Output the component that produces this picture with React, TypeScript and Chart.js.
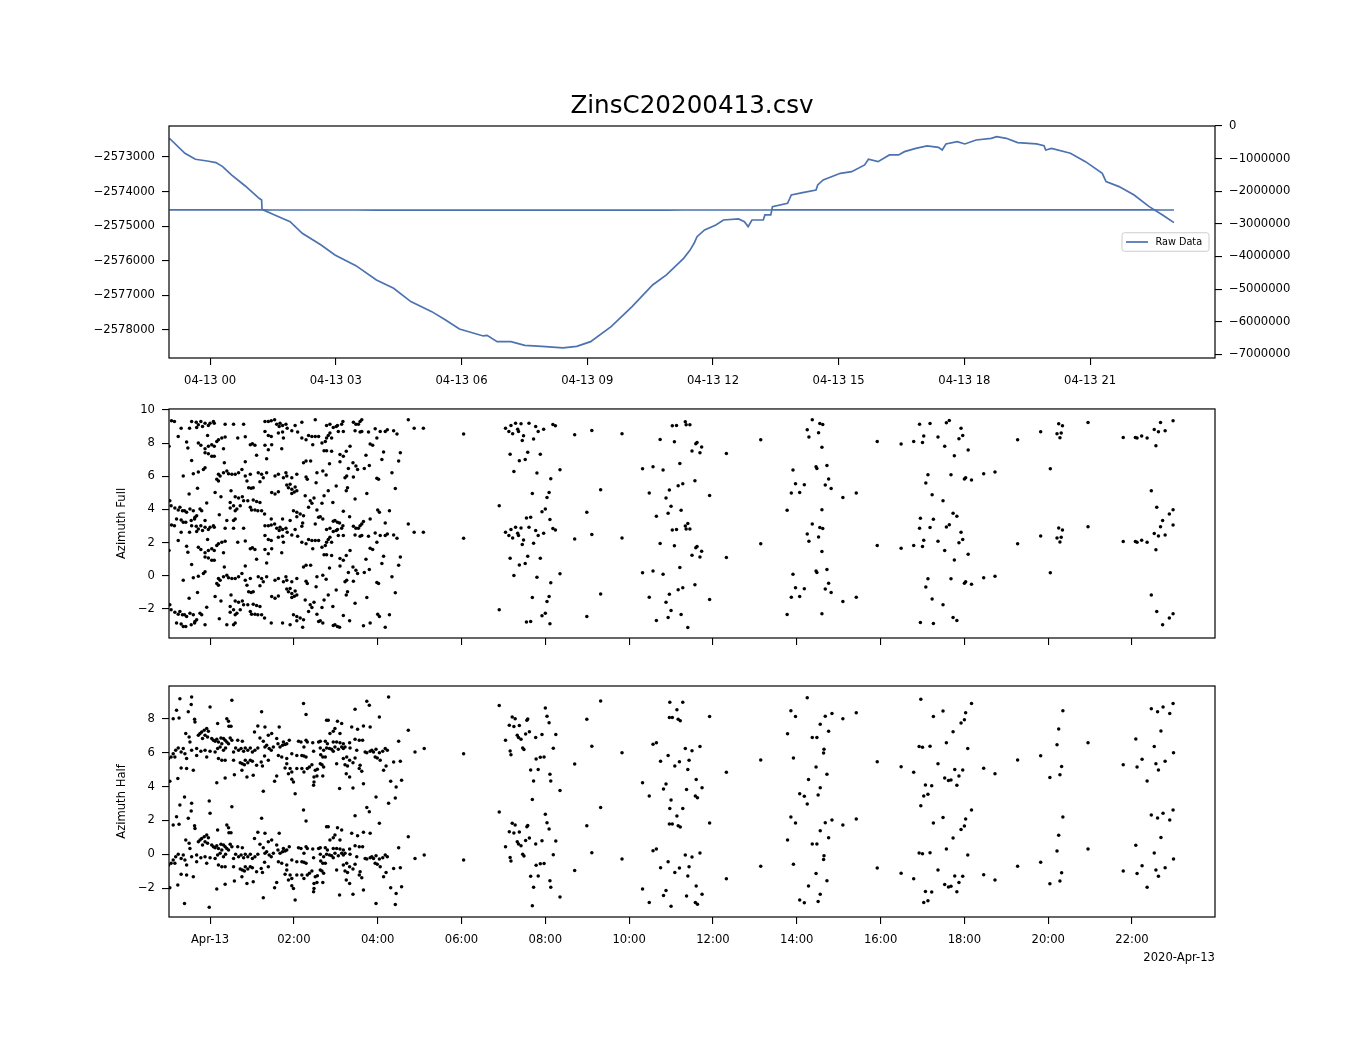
import { useEffect, useRef } from "react";
import { Chart, registerables } from "chart.js";

Chart.register(...registerables);

const FONT = "'DejaVu Sans', sans-serif";
const BLUE = "#4c72b0";
// each azimuth is drawn twice, one full turn apart
const PERIOD = 2 * Math.PI;

// x values are hours since 2020-04-13 00:00
const X_MIN = -0.98;
const X_MAX = 23.98;

const rawHours = [
  -0.97, -0.6, -0.35, -0.07, 0.14, 0.3, 0.51, 0.84, 1.17, 1.23, 1.24, 1.5, 1.91, 2.2, 2.65, 2.98, 3.48,
  3.97, 4.38, 4.79, 5.29, 5.62, 5.95, 6.52, 6.61, 6.85, 7.18, 7.51, 7.92, 8.42, 8.75, 9.08, 9.57, 10.07,
  10.56, 10.89, 11.3, 11.45, 11.55, 11.62, 11.8, 12.07, 12.25, 12.61, 12.75, 12.84, 12.93, 13.2, 13.24,
  13.38, 13.42, 13.78, 13.87, 14.14, 14.46, 14.5, 14.63, 15.04, 15.31, 15.62, 15.71, 15.94, 16.21, 16.43,
  16.57, 16.84, 17.11, 17.38, 17.47, 17.56, 17.83, 18.01, 18.28, 18.64, 18.77, 19.0, 19.27, 19.72, 19.9,
  19.94, 20.08, 20.53, 20.89, 21.29, 21.38, 21.69, 22.05, 22.41, 22.73, 23.0,
];
const rawValues = [
  -2572460, -2572894, -2573067, -2573116, -2573164, -2573279, -2573520, -2573838, -2574195, -2574243,
  -2574513, -2574657, -2574869, -2575206, -2575543, -2575832, -2576141, -2576555, -2576796, -2577181,
  -2577470, -2577711, -2577971, -2578173, -2578154, -2578337, -2578337, -2578443, -2578472, -2578520,
  -2578472, -2578337, -2577904, -2577326, -2576699, -2576410, -2575929, -2575700, -2575495, -2575303,
  -2575110, -2574965, -2574821, -2574792, -2574869, -2575013, -2574821, -2574821, -2574676, -2574676,
  -2574435, -2574339, -2574098, -2574031, -2573954, -2573809, -2573665, -2573472, -2573424, -2573231,
  -2573067, -2573135, -2572942, -2572942, -2572846, -2572750, -2572682, -2572721, -2572798, -2572624,
  -2572557, -2572624, -2572509, -2572461, -2572412, -2572461, -2572586, -2572624, -2572672, -2572798,
  -2572750, -2572894, -2573135, -2573472, -2573713, -2573857, -2574098, -2574435, -2574676, -2574898,
];

const dayTicks = [0, 3, 6, 9, 12, 15, 18, 21];
const hourTicks = [0, 2, 4, 6, 8, 10, 12, 14, 16, 18, 20, 22];
const leftTicks = [-2578000, -2577000, -2576000, -2575000, -2574000, -2573000];
const rightTicks = [-7000000, -6000000, -5000000, -4000000, -3000000, -2000000, -1000000, 0];
const fullTicks = [-2, 0, 2, 4, 6, 8, 10];
const halfTicks = [-2, 0, 2, 4, 6, 8];

// [hour, azimuth] in (-pi, pi]
const azFull: [number, number][] = [
  [-0.92, 3.06], [-0.85, 3.02], [-0.44, 3.02], [-0.33, 2.98], [-0.28, 2.82], [-0.22, 3.02], [-0.18, 2.72],
  [-0.12, 2.92], [0.0, 2.92], [0.08, 3.02], [-0.69, 2.62], [-0.49, 2.62], [-0.32, 2.66], [-0.04, 2.78],
  [0.1, 2.92], [0.36, 2.86], [0.56, 2.86], [0.8, 2.86], [1.31, 3.02], [1.39, 3.02], [1.46, 3.06],
  [1.54, 3.12], [1.59, 2.86], [1.65, 2.72], [1.67, 2.92], [1.73, 2.78], [1.81, 2.86], [1.84, 2.62],
  [2.03, 2.78], [2.19, 2.98], [1.31, 2.42], [1.39, 2.18], [1.46, 2.12], [1.63, 2.32], [1.73, 2.38],
  [1.75, 2.02], [1.95, 2.46], [2.09, 2.38], [-0.76, 2.12], [-0.06, 2.18], [0.2, 1.92], [0.28, 2.02],
  [0.36, 2.08], [0.66, 2.02], [0.84, 2.1], [-0.98, 1.52], [-0.56, 1.78], [-0.53, 1.42], [-0.28, 1.72],
  [-0.22, 1.58], [-0.12, 1.38], [-0.04, 1.52], [0.04, 1.62], [0.1, 1.52], [0.16, 1.82], [0.32, 1.38],
  [0.96, 1.62], [1.01, 1.68], [1.07, 1.58], [1.31, 1.58], [1.39, 1.32], [1.47, 1.62], [1.71, 1.38],
  [2.19, 2.02], [-0.12, 1.13], [-0.04, 1.07], [0.04, 0.93], [0.1, 0.93], [1.11, 0.99], [1.35, 0.77],
  [-0.44, 0.67], [0.34, 0.53], [0.84, 0.59], [2.23, 0.53], [-0.64, -0.27], [-0.4, -0.13], [-0.28, -0.03],
  [-0.16, 0.13], [-0.12, 0.23], [0.2, -0.17], [0.24, -0.27], [0.32, -0.07], [0.4, 0.03], [0.44, -0.13],
  [0.52, -0.17], [0.6, -0.17], [0.68, -0.07], [0.76, 0.13], [0.84, -0.27], [0.96, -0.17], [1.15, -0.07],
  [1.23, -0.17], [1.27, -0.37], [1.35, -0.07], [1.55, -0.27], [1.63, -0.17], [1.75, -0.37], [1.81, -0.07],
  [1.83, -0.27], [1.95, -0.37], [2.07, -0.17], [0.16, -0.47], [0.2, -0.57], [0.88, -0.57], [1.19, -0.61],
  [1.83, -0.81], [1.91, -0.77], [1.87, -0.97], [1.95, -1.07], [2.03, -0.93], [2.07, -1.16], [0.92, -0.97],
  [0.98, -1.01], [1.03, -0.97], [-0.5, -1.36], [-0.3, -1.01], [0.12, -1.26], [0.26, -1.52], [0.5, -1.16],
  [0.6, -1.52], [0.68, -1.6], [0.77, -1.52], [0.9, -1.76], [1.03, -1.72], [1.11, -1.8], [1.19, -1.86],
  [1.47, -1.26], [1.55, -1.36], [1.63, -1.22], [1.95, -1.32], [2.01, -1.24], [-0.08, -1.9], [-0.96, -1.76],
  [-0.93, -2.06], [-0.84, -2.2], [-0.72, -2.16], [-0.76, -2.32], [-0.66, -2.36], [-0.61, -2.36],
  [-0.56, -2.46], [-0.48, -2.26], [-0.4, -2.36], [-0.32, -2.66], [-0.24, -2.26], [-0.2, -2.36],
  [0.48, -1.86], [0.56, -2.06], [0.64, -2.26], [0.48, -2.2], [0.6, -2.36], [0.72, -2.06], [0.8, -1.76],
  [0.96, -2.16], [0.99, -2.32], [1.07, -2.32], [1.14, -2.36], [1.3, -2.56], [1.23, -2.36], [1.99, -2.36],
  [2.07, -2.46], [2.15, -2.56], [2.23, -2.66], [-0.8, -2.86], [-0.69, -2.92], [-0.64, -3.06],
  [-0.58, -3.06], [-0.45, -2.96], [-0.37, -2.86], [-0.36, -2.76], [-0.12, -2.96], [0.22, -2.6],
  [0.4, -2.96], [0.56, -2.96], [0.6, -2.86], [1.46, -2.86], [1.73, -2.86], [1.91, -2.96], [2.07, -2.72],
  [2.51, 3.12], [4.73, 3.12], [2.78, 2.78], [2.86, 2.86], [2.94, 2.66], [3.01, 2.72], [3.04, 2.78],
  [3.14, 2.86], [3.17, 3.02], [3.42, 2.98], [3.48, 2.86], [3.54, 2.86], [3.58, 3.02], [3.62, 3.12],
  [3.46, 2.46], [3.58, 2.38], [3.62, 2.42], [3.78, 2.38], [3.94, 2.58], [4.06, 2.42], [4.18, 2.42],
  [4.23, 2.52], [4.38, 2.46], [4.46, 2.26], [4.87, 2.62], [5.09, 2.62], [2.29, 1.92], [2.35, 2.18],
  [2.43, 2.12], [2.51, 2.12], [2.59, 2.12], [2.45, 1.62], [2.67, 1.72], [2.75, 1.82], [2.78, 2.02],
  [2.82, 2.18], [2.9, 2.02], [2.86, 2.32], [3.06, 2.42], [3.18, 2.42], [3.82, 1.66], [3.88, 1.58],
  [3.98, 2.02], [2.72, 1.26], [2.78, 1.26], [2.9, 1.22], [3.1, 1.03], [3.18, 0.93], [3.25, 1.22],
  [3.34, 1.52], [3.72, 0.99], [4.14, 1.18], [4.54, 1.13], [4.1, 0.73], [4.5, 0.63], [2.29, 0.63],
  [2.4, 0.63], [2.85, 0.47], [3.1, 0.59], [3.41, 0.53], [3.48, 0.33], [3.52, 0.13], [3.68, 0.19],
  [3.8, 0.37], [3.3, 0.19], [4.34, -0.07], [2.29, -0.33], [2.32, -0.47], [2.55, -0.07], [2.69, 0.03],
  [2.77, -0.21], [2.53, -0.67], [3.22, -0.37], [3.26, -0.27], [3.42, -0.33], [3.98, -0.41], [4.02, -0.47],
  [3.01, -0.87], [3.25, -1.16], [3.28, -0.97], [2.82, -1.16], [2.72, -1.46], [3.74, -1.32], [4.42, -1.03],
  [2.27, -1.46], [2.39, -1.76], [2.43, -1.92], [2.48, -1.6], [2.67, -1.92], [2.93, -1.86], [3.46, -1.66],
  [2.35, -2.16], [2.55, -2.32], [2.63, -2.72], [2.59, -2.76], [2.69, -2.86], [2.94, -3.0], [2.98, -2.96],
  [3.04, -3.06], [3.09, -3.11], [3.18, -2.4], [3.33, -2.72], [3.66, -3.02], [3.82, -2.86], [4.0, -2.32],
  [4.04, -2.46], [4.18, -3.11], [4.28, -2.36], [2.21, -3.11],
  [6.05, 2.26], [6.9, -2.06], [7.05, 2.62], [7.13, 2.42], [7.18, 2.78], [7.22, 2.28], [7.29, 2.92],
  [7.34, 2.56], [7.36, 2.42], [7.42, 2.88], [7.48, 2.16], [7.45, 1.88], [7.61, 2.92], [7.72, 1.96],
  [7.77, 2.72], [7.83, 2.42], [7.96, 2.56], [8.18, 2.84], [8.24, 2.76], [7.16, 1.05], [7.38, 0.65],
  [7.52, 0.73], [7.58, 1.17], [7.88, 1.05], [7.25, 0.01], [7.8, -0.09], [8.13, -0.43], [8.35, 0.11],
  [7.69, -1.32], [8.09, -1.26], [8.04, -1.56], [7.55, -2.8], [7.65, -2.76], [7.92, -2.42], [8.0, -2.26],
  [8.11, -2.9], [8.7, 2.22], [9.11, 2.48], [9.83, 2.28], [8.99, -2.46], [9.32, -1.1], [10.32, 0.17],
  [10.57, 0.29], [10.81, 0.09], [11.21, 0.49], [10.48, -1.3], [10.96, -1.12], [10.88, -1.6], [11.0, -2.1],
  [10.65, -2.7], [10.93, -2.52], [11.24, -2.34], [11.4, -3.13], [11.17, -0.85], [11.28, -0.73],
  [11.57, -0.55], [11.92, -1.44], [11.03, 2.76], [11.13, 2.78], [11.34, 3.0], [11.45, 2.82], [11.36, 2.82],
  [10.74, 1.94], [11.08, 1.8], [11.62, 1.76], [11.59, 1.68], [11.73, 1.48], [11.5, 1.24], [11.69, 1.13],
  [12.32, 1.09], [13.14, 1.92], [13.77, -2.34], [13.87, -1.3], [14.07, -1.26], [13.97, -0.73],
  [14.18, -0.79], [13.91, 0.09], [14.46, 0.29], [14.48, 0.19], [14.25, 2.52], [14.37, 3.12], [14.29, 2.08],
  [14.52, 2.34], [14.55, 2.9], [14.62, 2.84], [14.6, 1.46], [14.72, 0.37], [14.76, -0.45], [14.68, -0.81],
  [14.82, -1.02], [14.6, -2.3], [15.1, -1.56], [15.42, -1.3], [15.92, 1.82], [16.49, 1.66], [16.79, 1.82],
  [17.0, 1.76], [17.03, 2.14], [17.37, 2.08], [17.53, 1.52], [17.76, 0.95], [17.87, 1.98], [17.96, 2.18],
  [17.92, 2.62], [18.09, 1.3], [16.93, 2.86], [17.18, 2.9], [17.57, 2.94], [17.64, 3.08], [16.95, -2.82],
  [17.26, -2.88], [17.73, -2.52], [17.82, -2.7], [17.13, -0.19], [17.08, -0.69], [17.23, -1.4],
  [17.49, -1.76], [17.68, -0.19], [18.0, -0.45], [18.03, -0.37], [18.17, -0.51], [18.46, -0.13],
  [18.73, -0.03], [19.27, 1.92], [19.82, 2.4], [20.21, 2.28], [20.31, 2.32], [20.28, 2.04], [20.25, 2.88],
  [20.34, 2.76], [20.05, 0.17], [20.95, 2.96], [21.79, 2.06], [22.08, 2.06], [22.12, 2.02], [22.23, 2.14],
  [22.36, 2.02], [22.57, 1.56], [22.53, 2.54], [22.63, 2.4], [22.79, 2.46], [22.68, 2.96], [22.98, 3.06],
  [22.59, -2.16], [22.46, -1.16], [22.89, -2.56], [22.98, -2.3], [22.73, -2.96],
];

const azHalf: [number, number][] = [
  [-0.72, 2.91], [-0.44, 3.01], [-0.8, 2.22], [-0.52, 2.13], [-0.45, 2.56], [0.0, 2.42], [0.52, 2.81],
  [-0.88, 1.73], [-0.74, 1.77], [-0.37, 1.69], [-0.36, 1.53], [0.18, 1.44], [0.4, 1.73], [0.44, 1.57],
  [0.45, 1.28], [0.5, 1.28], [1.23, 2.13], [2.23, 2.62], [-0.58, 0.85], [-0.5, 0.65], [-0.48, 0.35],
  [-0.28, 0.75], [-0.24, 0.85], [-0.2, 0.94], [-0.14, 1.04], [-0.08, 1.14], [-0.04, 0.98], [-0.12, 0.75],
  [-0.18, 0.55], [-0.06, 0.65], [0.04, 0.55], [0.08, 0.45], [0.12, 0.39], [0.16, 0.51], [0.2, 0.35],
  [0.26, 0.59], [0.32, 0.55], [0.36, 0.45], [0.4, 0.35], [0.48, 0.59], [0.52, 0.45], [0.66, 0.45],
  [0.77, 0.39], [1.06, 0.94], [1.14, 1.3], [1.31, 1.24], [1.19, 0.59], [1.27, 0.39], [1.39, 0.75],
  [1.47, 0.85], [1.59, 0.55], [1.65, 1.24], [1.75, 0.35], [1.83, 0.25], [1.89, 0.45], [2.11, 0.39],
  [2.17, 0.35], [-0.93, -0.53], [-0.88, -0.34], [-0.82, -0.14], [-0.76, 0.0], [-0.69, -0.24], [-0.64, -0.04],
  [-0.6, -0.34], [-0.56, -0.63], [-0.44, -0.14], [-0.32, -0.04], [-0.32, -0.44], [-0.22, -0.2], [-0.12, -0.14],
  [0.0, -0.2], [0.12, -0.24], [0.18, -0.04], [0.24, 0.06], [0.28, 0.25], [0.32, -0.14], [0.37, 0.0],
  [0.44, 0.25], [0.56, -0.24], [0.61, 0.0], [0.68, -0.14], [0.74, -0.04], [0.8, -0.2], [0.84, 0.0],
  [0.9, -0.14], [0.96, 0.0], [1.01, -0.24], [1.07, -0.14], [1.14, 0.0], [1.31, 0.06], [1.35, 0.16],
  [1.41, -0.04], [1.46, -0.14], [1.51, 0.06], [1.62, 0.25], [1.67, 0.06], [1.73, 0.16], [1.79, 0.2],
  [1.63, -0.44], [1.71, -0.53], [1.83, -0.63], [1.95, -0.34], [2.07, -0.44], [-0.99, -0.63], [-0.84, -0.53],
  [-0.69, -1.18], [-0.56, -1.22], [-0.4, -1.32], [-0.08, -0.53], [0.2, -0.63], [0.28, -0.73], [0.36, -0.73],
  [0.56, -0.73], [0.72, -0.87], [0.77, -0.93], [0.84, -0.73], [0.9, -0.87], [0.96, -0.73], [1.01, -0.79],
  [1.11, -1.03], [1.22, -0.83], [1.3, -0.47], [1.39, -0.73], [0.76, -1.32], [0.82, -0.99], [1.25, -1.07],
  [1.79, -1.18], [1.83, -0.93], [1.91, -1.22], [1.95, -1.42], [1.87, -1.52], [2.07, -1.22], [-0.96, -1.97],
  [-0.77, -1.81], [0.16, -2.05], [0.36, -1.77], [0.58, -1.58], [0.88, -1.72], [1.03, -1.62], [1.54, -1.97],
  [1.59, -1.66], [1.95, -1.85], [2.03, -2.7], [1.27, -2.56], [-0.61, -2.9], [-0.02, -3.13], [1.99, -2.01],
  [4.26, 3.01], [3.74, 2.76], [3.8, 2.52], [3.46, 2.28], [2.29, 1.97], [4.04, 1.83], [2.78, 1.63],
  [2.82, 1.63], [3.04, 1.57], [3.14, 1.44], [2.98, 1.14], [2.94, 0.98], [2.86, 0.85], [3.1, 0.85],
  [3.38, 1.24], [3.52, 1.1], [3.66, 1.3], [3.82, 1.24], [4.73, 1.04], [2.29, 0.45], [2.32, 0.35],
  [2.45, 0.31], [2.59, 0.35], [2.63, 0.39], [2.75, 0.39], [2.8, 0.25], [2.94, 0.35], [3.02, 0.35],
  [3.1, 0.31], [3.18, 0.25], [3.33, 0.31], [3.46, 0.51], [3.56, 0.45], [3.64, 0.45], [4.5, 0.39],
  [2.24, 0.06], [2.47, -0.2], [2.63, 0.0], [2.71, -0.14], [2.78, 0.0], [2.85, -0.04], [2.9, -0.08],
  [2.94, -0.2], [2.98, 0.06], [3.06, -0.08], [3.14, 0.06], [3.18, -0.04], [3.22, 0.06], [3.34, 0.0],
  [3.5, -0.14], [3.7, -0.24], [3.74, -0.28], [3.82, -0.2], [3.86, -0.14], [3.9, -0.24], [3.96, -0.08],
  [4.04, -0.28], [4.12, -0.2], [4.18, -0.04], [4.23, -0.14], [4.89, -0.24], [5.11, -0.04], [2.19, -0.44],
  [2.24, -0.47], [2.29, -0.53], [2.64, -0.4], [2.69, -0.53], [2.75, -0.53], [3.18, -0.63], [3.26, -0.53],
  [3.46, -0.59], [3.41, -0.87], [3.33, -0.73], [3.94, -0.53], [3.99, -0.59], [4.06, -0.73], [4.38, -0.83],
  [4.54, -0.79], [4.2, -1.07], [4.14, -1.32], [3.58, -1.03], [3.56, -1.22], [3.62, -1.38], [3.22, -0.99],
  [3.28, -1.07], [3.02, -0.93], [2.63, -0.93], [2.67, -0.99], [2.71, -1.12], [2.43, -0.99], [2.37, -1.12],
  [2.32, -1.22], [2.19, -1.22], [2.24, -1.42], [2.51, -1.32], [2.56, -1.26], [2.48, -1.72], [2.55, -1.66],
  [2.69, -1.66], [3.25, -1.52], [3.33, -1.72], [2.48, -2.01], [2.47, -2.21], [4.31, -1.97], [4.57, -1.91],
  [4.44, -2.31], [3.66, -2.11], [3.09, -2.4], [3.41, -2.36], [3.96, -2.9], [4.42, -2.96],
  [6.05, -0.34], [6.9, 2.5], [7.21, 1.83], [7.28, 1.73], [7.14, 1.34], [7.25, 1.26], [7.38, 1.32],
  [7.56, 1.63], [7.58, 1.71], [7.05, 0.45], [7.33, 0.75], [7.36, 0.61], [7.42, 0.51], [7.53, 0.82],
  [7.62, 0.96], [7.77, 0.61], [7.92, 0.8], [8.0, 2.36], [8.04, 1.87], [8.09, 1.49], [8.25, 0.79],
  [7.16, -0.18], [7.18, -0.4], [7.46, 0.0], [7.49, -0.1], [8.19, -0.02], [7.78, -0.65], [7.88, -0.55],
  [7.97, -0.54], [7.65, -1.3], [7.83, -1.28], [8.11, -1.56], [8.13, -1.95], [7.72, -1.95], [8.35, -2.52],
  [7.69, -3.04], [8.7, -0.95], [8.99, 1.69], [9.11, 0.1], [9.32, 2.77], [9.83, -0.28], [10.57, 0.21],
  [10.65, 0.31], [10.93, -0.44], [10.75, -0.79], [11.09, -1.07], [11.2, -0.81], [11.43, -0.73],
  [11.4, -1.28], [11.34, -0.04], [11.5, -0.16], [11.69, 0.08], [10.32, -2.05], [10.48, -2.84],
  [10.82, -2.43], [10.88, -2.13], [11.0, -3.07], [11.37, -2.46], [11.6, -1.87], [11.74, -2.35],
  [11.58, -2.84], [11.63, -2.94], [10.97, 2.7], [11.14, 2.26], [10.96, 1.79], [11.03, 1.79], [11.17, 1.69],
  [11.22, 1.61], [11.28, 2.7], [11.92, 1.85], [12.32, -1.44], [13.14, -0.71], [13.86, 2.2], [13.97, 1.85],
  [13.78, 0.84], [14.37, 0.61], [14.48, 0.61], [13.92, -0.59], [14.46, -1.13], [14.28, -1.87],
  [14.07, -2.7], [14.18, -2.86], [14.51, -2.78], [14.25, 2.97], [14.68, 1.87], [14.56, 1.4], [14.76, 0.98],
  [14.64, -0.3], [14.65, -0.08], [14.72, -1.56], [14.56, -2.35], [14.84, 2.03], [15.1, 1.73], [15.42, 2.08],
  [15.92, -0.81], [16.49, -1.11], [16.79, -1.44], [16.96, 2.87], [16.92, 0.08], [17.0, 0.04], [17.18, 0.1],
  [17.26, 1.85], [17.49, 2.18], [17.73, 0.96], [17.57, 0.31], [17.37, -0.93], [17.53, -1.78],
  [17.62, -1.93], [17.68, -1.89], [17.82, -2.21], [17.87, -1.66], [17.96, -1.3], [17.77, -1.28],
  [17.07, -2.19], [17.22, -2.23], [17.03, -2.84], [17.13, -2.74], [18.03, 2.08], [18.0, 1.67], [17.92, 1.47],
  [18.17, 2.62], [18.08, -0.04], [18.46, -1.2], [18.73, -1.52], [19.27, -0.71], [19.82, -0.46], [20.21, 0.19],
  [20.25, 1.12], [20.35, 2.2], [20.28, -1.58], [20.32, -1.09], [20.04, -1.74], [20.95, 0.31], [21.79, -0.99],
  [22.12, -1.13], [22.24, -0.67], [22.36, -1.95], [22.09, 0.53], [22.53, 0.08], [22.57, -0.93],
  [22.63, -1.3], [22.79, -0.79], [22.99, -0.28], [22.69, 1.0], [22.46, 2.32], [22.61, 2.14], [22.74, 2.42],
  [22.9, 2.03], [22.98, 2.62],
];

const tickFont = { family: FONT, size: 11.6 };
const tickMarks = {
  display: true,
  drawOnChartArea: false,
  drawTicks: true,
  tickLength: 7,
  color: "#000",
  lineWidth: 1.1,
};

const pad2 = (h: number) => String(h).padStart(2, "0");
const minus = (v: number) => (v < 0 ? "\u2212" + Math.abs(v) : String(v));

function xAxis(values: number[], label: (h: number) => string, height: number) {
  return {
    type: "linear" as const,
    min: X_MIN,
    max: X_MAX,
    afterBuildTicks: (s: any) => {
      s.ticks = values.map((value) => ({ value }));
    },
    afterFit: (s: any) => {
      s.height = height;
    },
    ticks: {
      callback: (v: any) => label(Number(v)),
      font: tickFont,
      color: "#000",
      padding: 9,
      maxRotation: 0,
      autoSkip: false,
    },
    grid: tickMarks,
    border: { display: false },
  };
}

function yAxis(position: "left" | "right", min: number, max: number, values: number[], width: number) {
  return {
    type: "linear" as const,
    position,
    min,
    max,
    afterBuildTicks: (s: any) => {
      s.ticks = values.map((value) => ({ value }));
    },
    afterFit: (s: any) => {
      s.width = width;
    },
    ticks: { callback: (v: any) => minus(Number(v)), font: tickFont, color: "#000", padding: 7, autoSkip: false },
    grid: tickMarks,
    border: { display: false },
  };
}

const framePlugin = {
  id: "frame",
  afterDraw(chart: Chart) {
    const { ctx, chartArea: a } = chart;
    ctx.save();
    ctx.strokeStyle = "#000";
    ctx.lineWidth = 1.2;
    ctx.strokeRect(a.left, a.top, a.right - a.left, a.bottom - a.top);
    ctx.restore();
  },
};

function decor(id: string, draw: (ctx: CanvasRenderingContext2D, chart: Chart) => void) {
  return {
    id,
    afterDraw(chart: Chart) {
      const ctx = chart.ctx;
      ctx.save();
      ctx.fillStyle = "#000";
      draw(ctx, chart);
      ctx.restore();
    },
  };
}

function yTitle(text: string) {
  return decor("ytitle", (ctx, chart) => {
    const a = chart.chartArea;
    ctx.translate(122, (a.top + a.bottom) / 2);
    ctx.rotate(-Math.PI / 2);
    ctx.font = `11.6px ${FONT}`;
    ctx.textAlign = "center";
    ctx.textBaseline = "middle";
    ctx.fillText(text, 0, 0);
  });
}

const titlePlugin = decor("title", (ctx, chart) => {
  const a = chart.chartArea;
  ctx.font = `24.6px ${FONT}`;
  ctx.textAlign = "center";
  ctx.textBaseline = "middle";
  ctx.fillText("ZinsC20200413.csv", (a.left + a.right) / 2, a.top - 19);
});

const legendPlugin = decor("rawlegend", (ctx, chart) => {
  const a = chart.chartArea;
  const w = 87;
  const h = 18.5;
  const x = a.right - 6 - w;
  const y = (a.top + a.bottom) / 2 - h / 2;
  ctx.beginPath();
  ctx.roundRect(x, y, w, h, 2.5);
  ctx.fillStyle = "rgba(255,255,255,0.8)";
  ctx.fill();
  ctx.strokeStyle = "#cccccc";
  ctx.lineWidth = 1;
  ctx.stroke();
  ctx.beginPath();
  ctx.moveTo(x + 4, y + h / 2);
  ctx.lineTo(x + 26, y + h / 2);
  ctx.strokeStyle = BLUE;
  ctx.lineWidth = 1.7;
  ctx.stroke();
  ctx.fillStyle = "#000";
  ctx.font = `9.7px ${FONT}`;
  ctx.textAlign = "left";
  ctx.textBaseline = "middle";
  ctx.fillText("Raw Data", x + 33.5, y + h / 2 + 0.5);
});

const offsetPlugin = decor("offset", (ctx, chart) => {
  const a = chart.chartArea;
  ctx.font = `11.6px ${FONT}`;
  ctx.textAlign = "right";
  ctx.textBaseline = "middle";
  ctx.fillText("2020-Apr-13", a.right, a.bottom + 41);
});

const wrapped = (pts: [number, number][]) =>
  pts.flatMap(([x, y]) => [
    { x, y },
    { x, y: y + PERIOD },
  ]);

const common = {
  animation: false as const,
  responsive: true,
  maintainAspectRatio: false,
  events: [] as any[],
};

export default function App() {
  const topRef = useRef<HTMLCanvasElement | null>(null);
  const midRef = useRef<HTMLCanvasElement | null>(null);
  const botRef = useRef<HTMLCanvasElement | null>(null);

  useEffect(() => {
    if (!topRef.current || !midRef.current || !botRef.current) return;
    const rawPoints = rawHours.map((x, i) => ({ x, y: rawValues[i] }));
    const lineStyle = { borderColor: BLUE, borderWidth: 1.7, pointRadius: 0, tension: 0, fill: false };
    const dotStyle = { pointRadius: 1.75, pointBackgroundColor: "#000", pointBorderWidth: 0, showLine: false };

    const top = new Chart(topRef.current, {
      type: "line",
      data: {
        datasets: [
          { label: "Raw Data", data: rawPoints, yAxisID: "y", ...lineStyle },
          { label: "Raw Data", data: rawPoints, yAxisID: "y2", ...lineStyle },
        ],
      },
      options: {
        ...common,
        layout: { autoPadding: false, padding: { top: 66, left: 0, right: 0, bottom: 0 } },
        plugins: { legend: { display: false }, tooltip: { enabled: false } },
        scales: {
          x: xAxis(dayTicks, (h) => `04-13 ${pad2(h)}`, 42),
          y: yAxis("left", -2578810, -2572105, leftTicks, 169),
          y2: yAxis("right", -7113000, 0, rightTicks, 135),
        },
      } as any,
      plugins: [framePlugin, titlePlugin, legendPlugin],
    });

    const mid = new Chart(midRef.current, {
      type: "scatter",
      data: { datasets: [{ label: "Azimuth Full", data: wrapped(azFull), ...dotStyle }] },
      options: {
        ...common,
        layout: { autoPadding: false, padding: { top: 11, left: 0, right: 135, bottom: 0 } },
        plugins: { legend: { display: false }, tooltip: { enabled: false } },
        scales: {
          x: xAxis(hourTicks, () => "", 22),
          y: yAxis("left", -3.76, 10.06, fullTicks, 169),
        },
      } as any,
      plugins: [framePlugin, yTitle("Azimuth Full")],
    });

    const bot = new Chart(botRef.current, {
      type: "scatter",
      data: { datasets: [{ label: "Azimuth Half", data: wrapped(azHalf), ...dotStyle }] },
      options: {
        ...common,
        layout: { autoPadding: false, padding: { top: 26, left: 0, right: 135, bottom: 0 } },
        plugins: { legend: { display: false }, tooltip: { enabled: false } },
        scales: {
          x: xAxis(hourTicks, (h) => (h === 0 ? "Apr-13" : `${pad2(h)}:00`), 73),
          y: yAxis("left", -3.7, 9.94, halfTicks, 169),
        },
      } as any,
      plugins: [framePlugin, yTitle("Azimuth Half"), offsetPlugin],
    });

    return () => {
      top.destroy();
      mid.destroy();
      bot.destroy();
    };
  }, []);

  const box = (topPx: number, height: number) => ({
    position: "absolute" as const,
    left: 0,
    top: topPx,
    width: 1350,
    height,
  });

  return (
    <div style={{ position: "absolute", left: 0, top: 0, width: 1350, height: 1050, background: "#fff" }}>
      <div style={box(60, 340)}>
        <canvas ref={topRef} />
      </div>
      <div style={box(395, 265)}>
        <canvas ref={midRef} />
      </div>
      <div style={box(660, 330)}>
        <canvas ref={botRef} />
      </div>
    </div>
  );
}
